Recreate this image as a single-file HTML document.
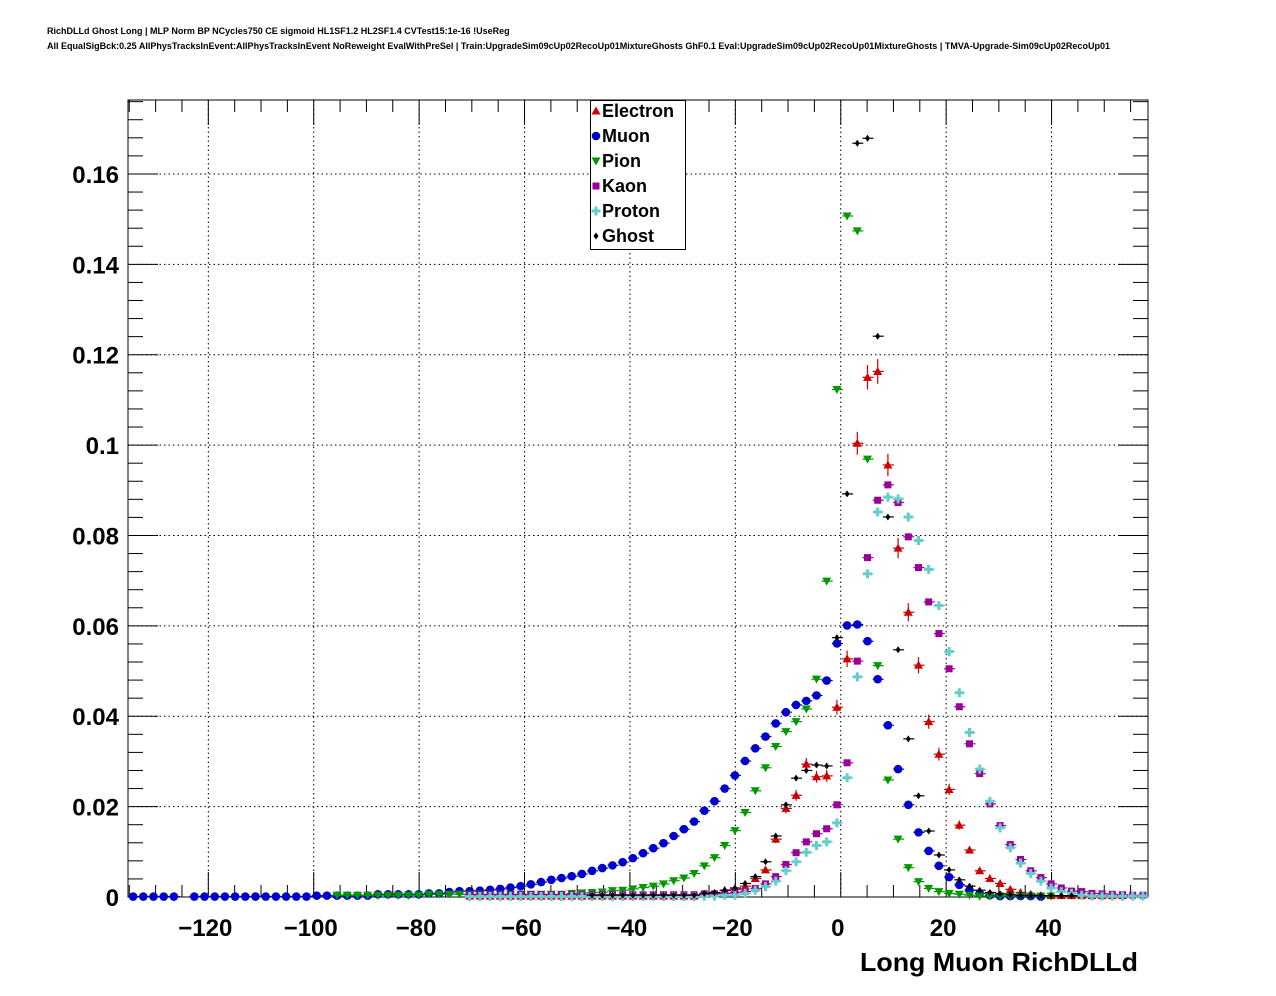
<!DOCTYPE html>
<html><head><meta charset="utf-8"><style>
body{margin:0;background:#fff;}
svg{display:block;font-family:"Liberation Sans",Arial,sans-serif;}
</style></head><body>
<svg id="c" width="1276" height="996" viewBox="0 0 1276 996">
<text x="47" y="34" font-size="9" font-weight="bold">RichDLLd Ghost Long | MLP Norm BP NCycles750 CE sigmoid HL1SF1.2 HL2SF1.4 CVTest15:1e-16 !UseReg</text>
<text x="47" y="49" font-size="9" font-weight="bold" textLength="1063" lengthAdjust="spacingAndGlyphs">All EqualSigBck:0.25 AllPhysTracksInEvent:AllPhysTracksInEvent NoReweight EvalWithPreSel | Train:UpgradeSim09cUp02RecoUp01MixtureGhosts GhF0.1 Eval:UpgradeSim09cUp02RecoUp01MixtureGhosts | TMVA-Upgrade-Sim09cUp02RecoUp01</text>
<g id="grid"></g>
<g id="axes"></g>
<g id="marks"></g>
<g id="legend"></g>
<text x="1138" y="971" font-size="26" font-weight="bold" text-anchor="end" textLength="278" lengthAdjust="spacingAndGlyphs">Long Muon RichDLLd</text>
</svg>
<script>
const xMin=-135.24, xMax=58.3, nBins=100;
const yTicks=[0,0.02,0.04,0.06,0.08,0.1,0.12,0.14,0.16];
const yTickLabels=["0","0.02","0.04","0.06","0.08","0.1","0.12","0.14","0.16"];
const xTicks=[-120,-100,-80,-60,-40,-20,0,20,40];
const xTickLabels=["\u2212120","\u2212100","\u221280","\u221260","\u221240","\u221220","0","20","40"];
const seriesNames=["Electron","Muon","Pion","Kaon","Proton","Ghost"];
function Z(n,v){return Array(n).fill(v);}
const electron=[].concat(Z(33,null),Z(23,0.0002),[0.0006,0.0008,0.0015,0.0017,0.0024,0.0041,0.0060,0.0128,0.0196,0.0225,0.0294,0.0266,0.0268,0.0420,0.0527,0.1004,0.1150,0.1163,0.0956,0.0772,0.0630,0.0513,0.0388,0.0316,0.0238,0.0159,0.0104,0.0058,0.0041,0.0030,0.0017,0.0010,0.0006],Z(9,0.0003),Z(2,null));
const muon=[].concat(Z(5,0.0001),[null],Z(12,0.0001),Z(6,0.0003),Z(5,0.0006),[0.0008,0.0008,0.0011,0.0013,0.0013,0.0014,0.0016,0.0018,0.0021,0.0024,0.0028,0.0033,0.0038,0.0042,0.0046,0.0051,0.0058,0.0064,0.0070,0.0077,0.0086,0.0097,0.0108,0.0119,0.0135,0.0150,0.0167,0.0191,0.0212,0.0240,0.0269,0.0301,0.0329,0.0355,0.0384,0.0409,0.0425,0.0434,0.0446,0.0479,0.0561,0.0601,0.0603,0.0566,0.0482,0.0380,0.0283,0.0204,0.0143,0.0102,0.0069,0.0044,0.0027,0.0015,0.0008,0.0004,0.0002,0.0002,0.0002,0.0002,0.0001],Z(10,null));
const pion=[].concat(Z(20,null),Z(9,0.0004),Z(14,0.0006),[0.0008,0.0009,0.0010,0.0011,0.0014,0.0015,0.0018,0.0021,0.0024,0.0029,0.0036,0.0042,0.0052,0.0069,0.0087,0.0114,0.0147,0.0187,0.0235,0.0286,0.0333,0.0366,0.0388,0.0416,0.0482,0.0699,0.1123,0.1507,0.1474,0.0969,0.0512,0.0259,0.0128,0.0065,0.0034,0.0019,0.0012,0.0008,0.0006,0.0004],Z(8,0.0002),Z(9,null));
const kaon=[].concat(Z(33,null),Z(23,0.0005),[0.0007,0.0007,0.0008,0.0010,0.0012,0.0019,0.0029,0.0045,0.0072,0.0098,0.0122,0.0140,0.0151,0.0204,0.0297,0.0522,0.0751,0.0878,0.0912,0.0873,0.0797,0.0729,0.0653,0.0583,0.0505,0.0421,0.0339,0.0273,0.0206,0.0158,0.0116,0.0083,0.0058,0.0043,0.0029,0.0020,0.0013,0.0012,0.0008,0.0007,0.0006,0.0005,0.0004,0.0004]);
const proton=[].concat(Z(33,null),Z(23,0.0001),[0.0002,0.0002,0.0004,0.0004,0.0008,0.0015,0.0023,0.0035,0.0058,0.0078,0.0099,0.0114,0.0122,0.0164,0.0264,0.0487,0.0715,0.0852,0.0885,0.0881,0.0841,0.0789,0.0725,0.0645,0.0543,0.0452,0.0364,0.0283,0.0212,0.0153,0.0109,0.0075,0.0052,0.0035,0.0020,0.0012,0.0008,0.0004],Z(6,0.0002));
const ghost=[].concat(Z(45,null),Z(11,0.0004),[0.0008,0.0010,0.0015,0.0020,0.0030,0.0045,0.0078,0.0135,0.0204,0.0263,0.0280,0.0292,0.0290,0.0574,0.0892,0.1668,0.1679,0.1241,0.0841,0.0547,0.0350,0.0224,0.0146,0.0093,0.0060,0.0038,0.0024,0.0015,0.0010,0.0007,0.0005],Z(6,0.0003),Z(7,null));

const L=128,R=1148,T=100,B=897,yMax=(B-T)/4519;
const NS="http://www.w3.org/2000/svg";
function X(v){return L+(v-xMin)/(xMax-xMin)*(R-L);}
function Y(v){return B-v/yMax*(B-T);}
function mk(tag,attrs,parent){const e=document.createElementNS(NS,tag);for(const k in attrs)e.setAttribute(k,attrs[k]);parent.appendChild(e);return e;}
const grid=document.getElementById('grid'),axes=document.getElementById('axes'),marks=document.getElementById('marks'),leg=document.getElementById('legend');
yTicks.forEach(v=>{if(v===0)return;const l=mk('line',{x1:L,x2:R,y1:Y(v),y2:Y(v),stroke:'#000','stroke-dasharray':'1.5,3','stroke-width':1},grid);

});
xTicks.forEach(v=>{const l=mk('line',{x1:X(v),x2:X(v),y1:T,y2:B,stroke:'#000','stroke-dasharray':'1.5,3','stroke-width':1},grid);

});
const fr=mk('rect',{x:L,y:T,width:R-L,height:B-T,fill:'none',stroke:'#000','stroke-width':1},axes);


for(let v=0;v<=yMax+1e-9;v+=0.004){const major=Math.abs(v/0.02-Math.round(v/0.02))<1e-6;const len=major?30:15;
const a=mk('line',{x1:L,x2:L+len,y1:Y(v),y2:Y(v),stroke:'#000'},axes);


const b=mk('line',{x1:R,x2:R-len,y1:Y(v),y2:Y(v),stroke:'#000'},axes);

}
yTicks.forEach((v,i)=>{const t=mk('text',{x:119,y:Y(v)+9,'font-size':24,'font-weight':'bold','text-anchor':'end'},axes);t.textContent=yTickLabels[i];

});
for(let v=-135;v<=xMax;v+=5){const major=v%20===0;const len=major?25:12;
const a=mk('line',{x1:X(v),x2:X(v),y1:B,y2:B-len,stroke:'#000'},axes);


const b=mk('line',{x1:X(v),x2:X(v),y1:T,y2:T+len,stroke:'#000'},axes);

}
xTicks.forEach((v,i)=>{const t=mk('text',{x:X(v)-3,y:936,'font-size':24,'font-weight':'bold','text-anchor':'middle'},axes);t.textContent=xTickLabels[i];

});
const colors=["#cc0000","#0000cc","#009900","#990099","#66cccc","#000000"];
function marker(type,x,y,col,parent){let e;
if(type===0)e=mk('polygon',{points:`${x},${y-4.5} ${x-4.5},${y+3.5} ${x+4.5},${y+3.5}`,fill:col},parent);
else if(type===1)e=mk('circle',{cx:x,cy:y,r:4.3,fill:col},parent);
else if(type===2)e=mk('polygon',{points:`${x-4.5},${y-3.5} ${x+4.5},${y-3.5} ${x},${y+4.5}`,fill:col},parent);
else if(type===3)e=mk('rect',{x:x-3.5,y:y-3.5,width:7,height:7,fill:col},parent);
else if(type===4)e=mk('path',{d:`M${x-1.5} ${y-4.5}h3v3h3v3h-3v3h-3v-3h-3v-3h3z`,fill:col},parent);
else e=mk('polygon',{points:`${x},${y-3.5} ${x+2.5},${y} ${x},${y+3.5} ${x-2.5},${y}`,fill:col},parent);
return e;}
const all=[electron,muon,pion,kaon,proton,ghost];
const bw=(xMax-xMin)/nBins;
all.forEach((arr,s)=>{const g=mk('g',{},marks);


arr.forEach((v,k)=>{if(v===null||v===undefined)return;const xc=X(xMin+(k+0.5)*bw),yc=Y(v);
const h=mk('line',{x1:xc-5,x2:xc+6,y1:yc,y2:yc,stroke:colors[s],'stroke-width':1.2},g);


if(s===0&&v>0.005){const e=Math.sqrt(v)*0.008;const vl=mk('line',{x1:xc,x2:xc,y1:Y(v+e),y2:Y(v-e),stroke:colors[s],'stroke-width':1.2},g);

}
const m=marker(s,xc,yc,colors[s],g);

});});
const lb=mk('rect',{x:590.5,y:100.5,width:95,height:149,fill:'#fff',stroke:'#000'},leg);


seriesNames.forEach((n,i)=>{const y=111+i*25;const g=mk('g',{},leg);


marker(i,596,y,colors[i],g);
const t=mk('text',{x:602,y:y+6,'font-size':18,'font-weight':'bold'},g);t.textContent=n;});
</script>
</body></html>
